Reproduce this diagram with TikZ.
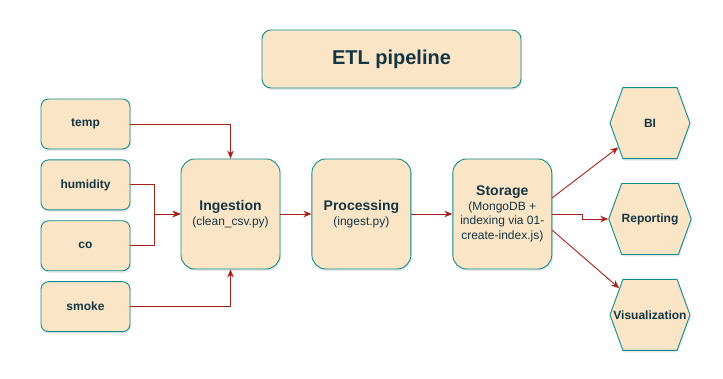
\documentclass[tikz,border=0pt]{standalone}
\usepackage{fontspec}
\setmainfont{Liberation Sans}
\usetikzlibrary{arrows.meta,positioning,shapes.symbols,shadows}

\definecolor{boxfill}{HTML}{FAE5C7}
\definecolor{boxline}{HTML}{0F8B8D}
\definecolor{boxtext}{HTML}{143642}
\definecolor{flow}{HTML}{A8201A}

\begin{document}
\begin{tikzpicture}[x=1pt, y=-1pt,
    box/.style={draw=boxline, fill=boxfill, line width=0.9pt, text=boxtext,
      drop shadow={shadow xshift=1pt, shadow yshift=-2pt, opacity=0.18}},
    src/.style={box, rounded corners=7.5pt, minimum width=89pt, minimum height=50pt,
      inner sep=0pt, font=\fontsize{12}{14}\selectfont\bfseries},
    stage/.style={box, rounded corners=14pt, minimum width=99pt, minimum height=110pt,
      inner sep=0pt, align=center, font=\fontsize{12}{14.5}\selectfont},
    hexa/.style={box, signal, signal to=west and east, signal pointer angle=140,
      minimum width=80pt, minimum height=71pt, inner sep=0pt,
      font=\fontsize{12}{14}\selectfont\bfseries},
    head/.style={box, rounded corners=9pt, minimum width=259pt, minimum height=58pt,
      font=\fontsize{20}{24}\selectfont\bfseries},
    flowarrow/.style={draw=flow, line width=0.9pt, -{Stealth[length=8pt, width=6.5pt]}}]
  \useasboundingbox (0,0) rectangle (723,379);

  \node[head] (title) at (391.5,59) {ETL pipeline};

  % sensor inputs
  \node[src] (temp) at (85.5,124) {temp};
  \node[src, below=10pt of temp] (hum) {humidity};
  \node[src, below=10pt of hum] (co) {co};
  \node[src, below=10pt of co] (smoke) {smoke};

  % pipeline stages
  \node[stage] (ing) at (230.5,214) {{\fontsize{14}{16}\selectfont\bfseries Ingestion}\\(clean\_csv.py)};
  \node[stage, right=31pt of ing] (proc) {{\fontsize{14}{16}\selectfont\bfseries Processing}\\(ingest.py)};
  \node[stage, right=41pt of proc] (stor) {{\fontsize{14}{16}\selectfont\bfseries Storage}\\(MongoDB +\\indexing via 01-\\create-index.js)};

  % consumers (long label kept from widening its hexagon)
  \node[hexa] (rep) at (650,219) {Reporting};
  \node[hexa, above=24pt of rep] (bi) {BI};
  \node[hexa, below=24pt of rep] (viz) {\makebox[0pt]{Visualization}};

  \coordinate[left=26pt of ing.west] (join);

  \draw[flowarrow] (temp.east) -| (ing.north);
  \draw[flowarrow] (hum.east) -| (join) -- (ing.west);
  \draw[flowarrow] (co.east) -| (join) -- (ing.west);
  \draw[flowarrow] (smoke.east) -| (ing.south);
  \draw[flowarrow] (ing) -- (proc);
  \draw[flowarrow] (proc) -- (stor);
  \draw[flowarrow] (stor.18) -- (bi);
  \draw[flowarrow] (stor.east) -- ++(30,0) |- (rep.west);
  \draw[flowarrow] (stor.-18) -- (viz);
\end{tikzpicture}
\end{document}
